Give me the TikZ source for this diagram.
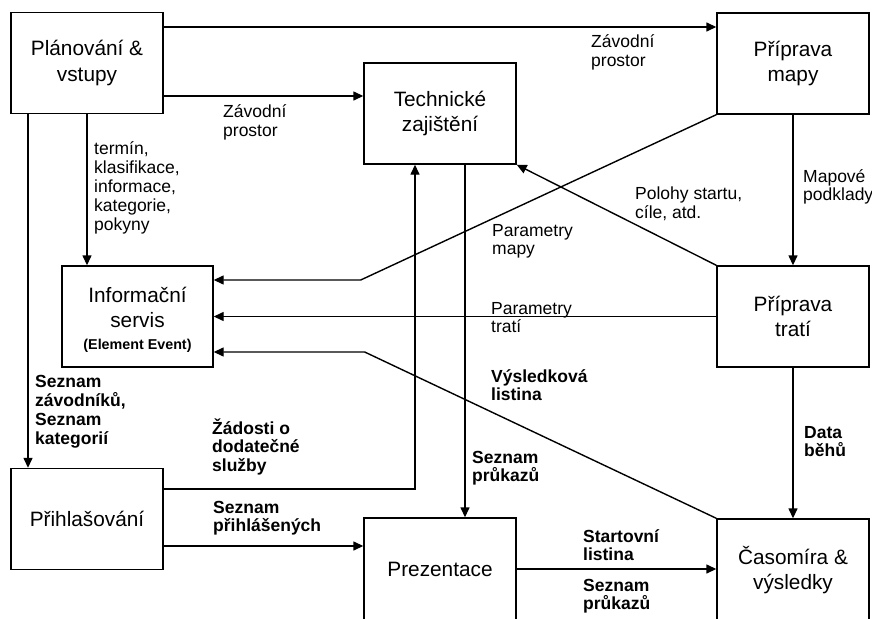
\documentclass[tikz,border=0pt]{standalone}
\usepackage{fontspec}
\setmainfont{Liberation Sans}
\usetikzlibrary{arrows.meta}
\begin{document}
\begin{tikzpicture}[x=1pt,y=-1pt,
  box/.style={draw,line width=1.4pt,minimum width=152pt,minimum height=101pt,inner sep=0pt,align=center,font=\fontsize{20.8}{25.5}\selectfont},
  conn/.style={line width=1.4pt},
  arr/.style={conn,-{Triangle[length=10pt,width=9pt]}},
  lbl/.style={anchor=base west,inner sep=0pt,align=left,font=\fontsize{17.5}{18.3}\selectfont},
  blbl/.style={lbl,font=\fontsize{17.5}{18.3}\selectfont\bfseries}]
\useasboundingbox (0,0) rectangle (872,618);
\clip (0,0) rectangle (872,618);
\fill[white] (0,0) rectangle (872,618);
% boxes
\node[box] (plan) at (87,63) {Plánování \&\\vstupy};
\node[box] (tech) at (440,113.5) {Technické\\zajištění};
\node[box] (mapa) at (793,63.5) {Příprava\\mapy};
\node[box,minimum width=151pt] (info) at (137.5,316.5) {\rule{0pt}{22pt}Informační\\servis\\[-3.5pt]{\fontsize{14.3}{16}\selectfont\bfseries (Element Event)}};
\node[box] (trate) at (793,316.5) {Příprava\\tratí};
\node[box] (prihl) at (87,519) {Přihlašování};
\node[box,minimum height=102pt] (prez) at (440,569) {Prezentace};
\node[box,minimum height=102pt] (cas) at (793,570) {Časomíra \&\\výsledky};
% helper coordinates
\coordinate (c1) at ([yshift=36pt]plan.east);
\coordinate (c2) at ([yshift=-33pt]plan.east);
\coordinate (c4) at ([xshift=-59pt]plan.south);
\coordinate (c5) at ([xshift=25pt]tech.south);
\coordinate (c6) at ([yshift=30pt]prihl.east);
\coordinate (c6b) at ([xshift=-25pt]tech.south);
\coordinate (c7) at ([yshift=-27pt]prihl.east);
\coordinate (c11) at ([yshift=36.5pt]info.east);
\coordinate (c11b) at ([xshift=147pt]c11);
\coordinate (c14) at ([yshift=-35.5pt]info.east);
\coordinate (c14b) at ([xshift=151pt]c14);
% connectors
\draw[arr] (c1) -- (c1 -| mapa.west);
\draw[arr] (c2) -- (c2 -| tech.west);
\draw[arr] (plan.south) -- (plan.south |- info.north);
\draw[arr] (c4) -- (c4 |- prihl.north);
\draw[arr] (c5) -- (c5 |- prez.north);
\draw[arr] (c6) -| (c6b);
\draw[arr] (c7) -- (c7 -| prez.west);
\draw[arr] (prez.east) -- (prez.east -| cas.west);
\draw[arr] (mapa.south) -- (trate.north);
\draw[arr] (trate.south) -- (cas.north);
\draw[arr] (mapa.south west) -- (c11b) -- (c11);
\draw[arr] (trate.west) -- (trate.west -| info.east);
\draw[arr] (trate.north west) -- (tech.south east);
\draw[arr] (cas.north west) -- (c14b) -- (c14);
% labels (anchor at the baseline of the last line)
\node[lbl] (l1) at (591,66.3) {Závodní\\prostor};
\node[lbl] (l2) at (223,136) {Závodní\\prostor};
\node[lbl,font=\fontsize{17.5}{19}\selectfont] (l3) at (94,230) {termín,\\klasifikace,\\informace,\\kategorie,\\pokyny};
\node[lbl] (l4) at (492,254.5) {Parametry\\mapy};
\node[lbl] (l5) at (635,218) {Polohy startu,\\cíle, atd.};
\node[lbl] (l6) at (803,200.3) {Mapové\\podklady};
\node[lbl] (l7) at (491,332.3) {Parametry\\tratí};
\node[blbl] (l8) at (491,400.3) {Výsledková\\listina};
\node[blbl,font=\fontsize{17.5}{19}\selectfont\bfseries] (l9) at (35,444) {Seznam\\závodníků,\\Seznam\\kategorií};
\node[blbl] (l10) at (212,471) {Žádosti o\\dodatečné\\služby};
\node[blbl] (l11) at (213,531.3) {Seznam\\přihlášených};
\node[blbl] (l12) at (472,481.3) {Seznam\\průkazů};
\node[blbl] (l13) at (804,456.3) {Data\\běhů};
\node[blbl] (l14) at (583,560.3) {Startovní\\listina};
\node[blbl] (l15) at (583,609.3) {Seznam\\průkazů};
\end{tikzpicture}
\end{document}
